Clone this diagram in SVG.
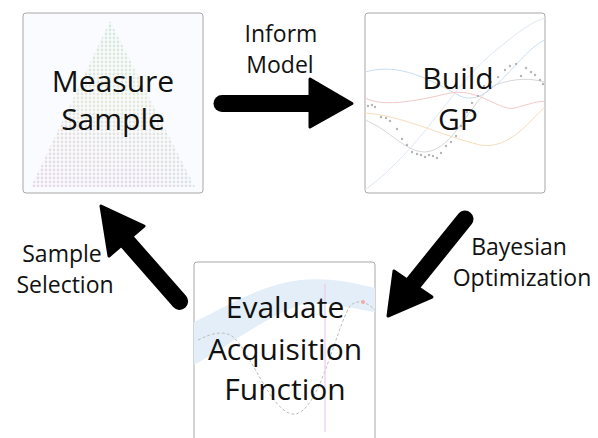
<svg xmlns="http://www.w3.org/2000/svg" width="598" height="438" viewBox="0 0 598 438">
<style>
.box{stroke:#a8a8a8;stroke-width:1;}
.big{font-family:"Open Sans","Liberation Sans",sans-serif;font-size:30px;fill:#111;text-anchor:middle;}
.lbl{font-family:"Open Sans","Liberation Sans",sans-serif;font-size:23px;fill:#111;text-anchor:middle;}
.arr{fill:#000;stroke:#000;stroke-width:3;stroke-linejoin:round;}
.shaft{stroke:#000;stroke-width:17;stroke-linecap:round;fill:none;}
</style>
<defs>
<pattern id="dots" width="4" height="4" patternUnits="userSpaceOnUse">
<circle cx="2" cy="2" r="1.4" fill="#fff"/>
</pattern>
<mask id="triMask">
<polygon points="110,21 31,187 195,187" fill="url(#dots)"/>
</mask>
<linearGradient id="triGrad" x1="0" y1="0" x2="0" y2="1">
<stop offset="0" stop-color="#cfe9e0"/>
<stop offset="0.45" stop-color="#e2ecd8"/>
<stop offset="1" stop-color="#e4d8ea"/>
</linearGradient>
<linearGradient id="triGrad2" x1="0" y1="0" x2="1" y2="0">
<stop offset="0" stop-color="#ead6ea" stop-opacity="0.6"/>
<stop offset="0.6" stop-color="#ede9d2" stop-opacity="0"/>
<stop offset="1" stop-color="#d0ece8" stop-opacity="0.6"/>
</linearGradient>
<clipPath id="c2"><rect x="365" y="13" width="180" height="180" rx="3"/></clipPath>
<clipPath id="c3"><rect x="194" y="262" width="181" height="190" rx="3"/></clipPath>
</defs>

<g id="measure-sample">
<rect class="box" x="23" y="13" width="180" height="180" rx="3" fill="#fafbfe"/>
<g mask="url(#triMask)">
<rect x="30" y="20" width="166" height="168" fill="url(#triGrad)"/>
<rect x="30" y="20" width="166" height="168" fill="url(#triGrad2)"/>
</g>
<text class="big" x="113" y="92">Measure</text>
<text class="big" x="113" y="130">Sample</text>
</g>

<g id="build-gp">
<rect class="box" x="365" y="13" width="180" height="180" rx="3" fill="#fff"/>
<g clip-path="url(#c2)" fill="none" stroke-width="1">
<path d="M365,190 C420,150 450,90 490,55 C515,35 530,22 545,18" stroke="#dde6f2"/>
<path d="M365,72 C400,62 430,80 460,96 C490,110 520,50 545,40" stroke="#c7dcef"/>
<path d="M365,98 C385,108 420,100 450,93 C480,88 500,112 515,108 C530,104 540,100 545,102" stroke="#f2c8c8"/>
<path d="M365,113 C400,115 440,135 480,145 C510,150 530,120 545,107" stroke="#f5dcbc"/>
<path d="M365,120 C390,130 405,152 425,152 C455,150 470,100 495,85 C515,78 530,78 545,82" stroke="#d6d6d6"/>
<g fill="#b5b5b5" stroke="none">
<circle cx="368" cy="106" r="1.2"/><circle cx="372" cy="105" r="1.2"/><circle cx="375" cy="107" r="1.2"/>
<circle cx="381" cy="117" r="1.2"/><circle cx="386" cy="118" r="1.2"/><circle cx="390" cy="121" r="1.2"/>
<circle cx="397" cy="129" r="1.2"/><circle cx="402" cy="139" r="1.2"/><circle cx="407" cy="145" r="1.2"/>
<circle cx="412" cy="152" r="1.2"/><circle cx="417" cy="154" r="1.2"/><circle cx="421" cy="155" r="1.2"/>
<circle cx="425" cy="157" r="1.2"/><circle cx="429" cy="155" r="1.2"/><circle cx="433" cy="156" r="1.2"/>
<circle cx="437" cy="158" r="1.2"/><circle cx="441" cy="153" r="1.2"/><circle cx="446" cy="146" r="1.2"/>
<circle cx="451" cy="142" r="1.2"/><circle cx="456" cy="136" r="1.2"/><circle cx="461" cy="126" r="1.2"/>
<circle cx="467" cy="112" r="1.2"/><circle cx="472" cy="103" r="1.2"/><circle cx="478" cy="96" r="1.2"/>
<circle cx="484" cy="86" r="1.2"/><circle cx="491" cy="82" r="1.2"/><circle cx="498" cy="77" r="1.2"/>
<circle cx="505" cy="70" r="1.2"/><circle cx="510" cy="66" r="1.2"/><circle cx="516" cy="64" r="1.2"/>
<circle cx="521" cy="76" r="1.2"/><circle cx="526" cy="68" r="1.2"/><circle cx="531" cy="72" r="1.2"/>
<circle cx="535" cy="75" r="1.2"/><circle cx="540" cy="80" r="1.2"/><circle cx="543" cy="84" r="1.2"/>
</g>
</g>
<text class="big" x="458" y="89">Build</text>
<text class="big" x="458" y="130">GP</text>
</g>

<g id="evaluate-acquisition">
<rect class="box" x="194" y="262" width="181" height="190" rx="3" fill="#fff"/>
<g clip-path="url(#c3)">
<path d="M194,322 C230,305 260,285 300,280 C330,277 355,283 375,288 L375,312 C350,308 325,300 300,305 C260,320 230,345 194,365 Z" fill="#e3eef8"/>
<path d="M198,340 C210,334 222,330 232,336 C250,350 270,410 292,414 C318,418 335,330 350,306 C356,300 365,300 375,310" fill="none" stroke="#bdbdbd" stroke-width="1" stroke-dasharray="3,2"/>
<line x1="325" y1="284" x2="325" y2="432" stroke="#f0c8ea" stroke-width="1.2"/>
<circle cx="363" cy="302" r="2" fill="#f4a8a8"/>
</g>
<text class="big" x="285" y="318">Evaluate</text>
<text class="big" x="285" y="360">Acquisition</text>
<text class="big" x="285" y="400">Function</text>
</g>

<g id="connectors">
<g id="inform-model">
<line class="shaft" x1="222" y1="103.5" x2="312" y2="103.5"/>
<polygon class="arr" points="310,79 352,103.5 310,127"/>
<text class="lbl" x="281" y="42">Inform</text>
<text class="lbl" x="280" y="73">Model</text>
</g>
<g id="bayesian-optimization">
<line class="shaft" x1="465" y1="219" x2="411" y2="286"/>
<polygon class="arr" points="388,316 394,271 432,297"/>
<text class="lbl" x="519" y="255">Bayesian</text>
<text class="lbl" x="522" y="286">Optimization</text>
</g>
<g id="sample-selection">
<line class="shaft" x1="179.6" y1="301.4" x2="124" y2="238"/>
<polygon class="arr" points="101,206 109,256 144,226"/>
<text class="lbl" x="62" y="262">Sample</text>
<text class="lbl" x="65" y="293">Selection</text>
</g>
</g>
</svg>
